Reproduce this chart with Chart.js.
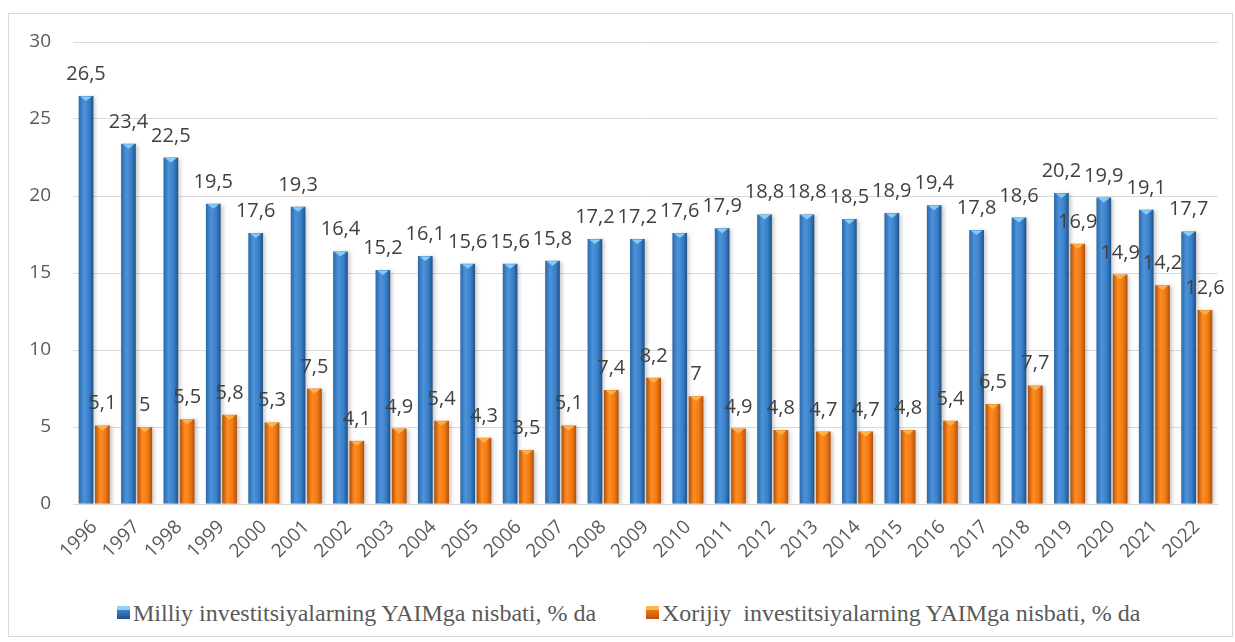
<!DOCTYPE html>
<html>
<head>
<meta charset="utf-8">
<script src="https://cdn.jsdelivr.net/npm/chart.js@4"></script>
<style>
    html, body { margin: 0; padding: 0; background: #fff; }
    body { width: 1235px; height: 642px; position: relative; overflow: hidden; }
    #frame { position: absolute; left: 8px; top: 13px; width: 1225px; height: 624px; border: 1px solid #d9d9d9; box-sizing: border-box; }
    #wrap { position: absolute; left: 0; top: 0; width: 1235px; height: 590px; }
    .leg { position: absolute; top: 598px; font: 24px "Liberation Serif", "Times New Roman", serif; line-height: 30px; color: #595959; white-space: pre; }
    .leg i { position: absolute; left: -16px; top: 8px; width: 13px; height: 13px; }
    #leg1 i { background: linear-gradient(to bottom, #8fd0f5 0, #8fd0f5 30%, #3d82c9 30%, #1f5289 100%); }
    #leg2 i { background: linear-gradient(to bottom, #fdb64a 0, #fdb64a 30%, #ee7a16 30%, #b8520a 100%); }
</style>
</head>
<body>
<div id="frame"></div>
<div id="wrap"><canvas id="investChart" width="1235" height="590"></canvas></div>
<div class="leg" id="leg1" style="left:133px"><i></i><span></span></div>
<div class="leg" id="leg2" style="left:662px"><i></i><span></span></div>
<script>
const years = ['1996', '1997', '1998', '1999', '2000', '2001', '2002', '2003', '2004', '2005',
    '2006', '2007', '2008', '2009', '2010', '2011', '2012', '2013', '2014', '2015',
    '2016', '2017', '2018', '2019', '2020', '2021', '2022'];
const milliy = [26.5, 23.4, 22.5, 19.5, 17.6, 19.3, 16.4, 15.2, 16.1, 15.6,
    15.6, 15.8, 17.2, 17.2, 17.6, 17.9, 18.8, 18.8, 18.5, 18.9,
    19.4, 17.8, 18.6, 20.2, 19.9, 19.1, 17.7];
const xorijiy = [5.1, 5, 5.5, 5.8, 5.3, 7.5, 4.1, 4.9, 5.4, 4.3,
    3.5, 5.1, 7.4, 8.2, 7, 4.9, 4.8, 4.7, 4.7, 4.8,
    5.4, 6.5, 7.7, 16.9, 14.9, 14.2, 12.6];
const milliyName = 'Milliy investitsiyalarning YAIMga nisbati, % da';
const xorijiyName = 'Xorijiy  investitsiyalarning YAIMga nisbati, % da';
const yTicks = [0, 5, 10, 15, 20, 25, 30];

const catPct = 0.77;
const barPct = 0.9;

const blueStops = ['#2b68a7', '#4b93dc', '#3a80c8', '#1f5289'];
const orangeStops = ['#c45a0c', '#ff8c22', '#f07a14', '#b3500a'];

document.querySelector('#leg1 span').textContent = milliyName;
document.querySelector('#leg2 span').textContent = xorijiyName;

// cylinder-like shading, computed from the category scale
function shade(c, stops, side) {
    const xs = c.chart.scales.x;
    if (c.type !== 'data' || !xs || !xs.width) {
        return stops[2];
    }
    const slot = (xs.width / years.length) * catPct / 2;
    const w = slot * barPct;
    const center = xs.getPixelForValue(c.dataIndex) + (side - 0.5) * slot;
    const g = c.chart.ctx.createLinearGradient(center - w / 2, 0, center + w / 2, 0);
    g.addColorStop(0, stops[0]);
    g.addColorStop(0.35, stops[1]);
    g.addColorStop(0.7, stops[2]);
    g.addColorStop(1, stops[3]);
    return g;
}

const barLook = {
    id: 'barLook',
    beforeDatasetsDraw(chart) {
        const ctx = chart.ctx;
        ctx.save();
        ctx.shadowColor = 'rgba(0,0,0,0.22)';
        ctx.shadowBlur = 4;
        ctx.shadowOffsetX = 2;
        ctx.shadowOffsetY = 1;
    },
    afterDatasetsDraw(chart) {
        const ctx = chart.ctx;
        ctx.restore();
        const caps = ['#86cbf3', '#fdb04a'];
        chart.data.datasets.forEach(function (ds, di) {
            chart.getDatasetMeta(di).data.forEach(function (el) {
                const half = el.width / 2;
                ctx.fillStyle = caps[di];
                ctx.beginPath();
                ctx.moveTo(el.x - half + 1.5, el.y + 0.5);
                ctx.lineTo(el.x + half - 1.5, el.y + 0.5);
                ctx.lineTo(el.x, el.y + 5);
                ctx.closePath();
                ctx.fill();
            });
        });
        // value labels
        ctx.save();
        ctx.font = '20px "Open Sans", sans-serif';
        ctx.fillStyle = '#404040';
        ctx.textAlign = 'center';
        ctx.textBaseline = 'alphabetic';
        chart.data.datasets.forEach(function (ds, di) {
            chart.getDatasetMeta(di).data.forEach(function (el, i) {
                const txt = String(ds.data[i]).replace('.', ',');
                ctx.fillText(txt, el.x, el.y - 16);
            });
        });
        ctx.restore();
    }
};

const ctxInvest = document.getElementById('investChart');

const investChart = new Chart(ctxInvest, {
    type: 'bar',
    data: {
        labels: years,
        datasets: [{
            label: milliyName,
            data: milliy,
            backgroundColor: c => shade(c, blueStops, 0),
            borderWidth: 0,
            categoryPercentage: catPct,
            barPercentage: barPct
        }, {
            label: xorijiyName,
            data: xorijiy,
            backgroundColor: c => shade(c, orangeStops, 1),
            borderWidth: 0,
            categoryPercentage: catPct,
            barPercentage: barPct
        }]
    },
    options: {
        responsive: false,
        animation: false,
        events: [],
        layout: {
            padding: { left: 0, right: 17, top: 42, bottom: 16 }
        },
        plugins: {
            legend: { display: false },
            tooltip: { enabled: false }
        },
        scales: {
            x: {
                grid: { display: false, drawTicks: false },
                border: { display: true, color: '#d9d9d9', width: 1 },
                ticks: {
                    color: '#595959',
                    font: { family: '"Open Sans", sans-serif', size: 19 },
                    minRotation: 45,
                    maxRotation: 45,
                    padding: 12,
                    autoSkip: false
                },
                afterFit(scale) {
                    scale.height = 70;
                }
            },
            y: {
                min: 0,
                max: 30,
                afterBuildTicks(scale) {
                    scale.ticks = yTicks.map(v => ({ value: v }));
                },
                grid: { color: '#d9d9d9', lineWidth: 1, drawTicks: false },
                border: { display: false },
                ticks: {
                    color: '#595959',
                    font: { family: '"Open Sans", sans-serif', size: 19 },
                    padding: 22
                },
                afterFit(scale) {
                    scale.width = 73;
                }
            }
        }
    },
    plugins: [barLook]
});
</script>
</body>
</html>
